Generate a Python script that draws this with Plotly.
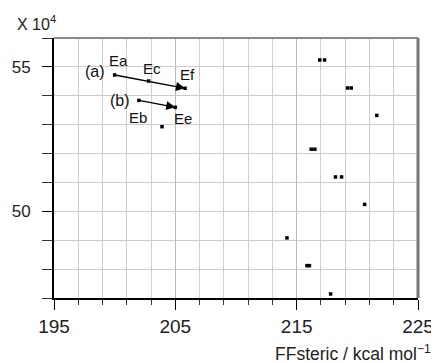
import plotly.graph_objects as go

# Path (a): Ea -> Ec -> Ef ; path (b): Eb -> Ee  (y in units of 10^4)
path_a_names = ["Ea", "Ec", "Ef"]
path_a_x = [200.0, 202.8, 205.8]
path_a_y = [54.72, 54.51, 54.26]

path_b_names = ["Eb", "Ee"]
path_b_x = [202.0, 205.0]
path_b_y = [53.84, 53.60]

# other conformers
other_x = [203.9, 216.9, 217.3, 219.2, 219.5, 221.6, 216.2, 216.5,
           218.2, 218.7, 220.6, 214.2, 215.85, 216.05, 217.8]
other_y = [52.93, 55.24, 55.24, 54.27, 54.27, 53.32, 52.15, 52.15,
           51.19, 51.19, 50.24, 49.08, 48.12, 48.12, 47.14]

x_range = [195, 225]
y_range = [47, 56]
x_tickvals = [195, 205, 215, 225]
y_tickvals = [50, 55]

FONT = "Liberation Sans, Arial, sans-serif"

fig = go.Figure()

for xs, ys in [(path_a_x, path_a_y), (path_b_x, path_b_y), (other_x, other_y)]:
    fig.add_trace(go.Scatter(x=xs, y=ys, mode="markers",
                             marker=dict(symbol="square", size=3.5, color="black"),
                             showlegend=False, hoverinfo="skip"))

# arrows
for xs, ys in [(path_a_x, path_a_y), (path_b_x, path_b_y)]:
    fig.add_annotation(x=xs[-1], y=ys[-1], ax=xs[0], ay=ys[0],
                       xref="x", yref="y", axref="x", ayref="y",
                       showarrow=True, arrowhead=2, arrowsize=1.4, arrowwidth=1.3,
                       arrowcolor="black", text="", standoff=0)

# point labels (pixel offsets)
label_shift = {"Ea": (4, 14), "Ec": (3, 13), "Ef": (2, 14), "Eb": (-1, -17), "Ee": (8, -11)}
for names, xs, ys in [(path_a_names, path_a_x, path_a_y), (path_b_names, path_b_x, path_b_y)]:
    for n, xv, yv in zip(names, xs, ys):
        dx, dy = label_shift[n]
        fig.add_annotation(x=xv, y=yv, text=n, showarrow=False, xshift=dx, yshift=dy,
                           font=dict(family=FONT, size=15, color="#111"))

fig.add_annotation(x=path_a_x[0], y=path_a_y[0], text="(a)", showarrow=False,
                   xshift=-20, yshift=3, font=dict(family=FONT, size=16, color="#111"))
fig.add_annotation(x=path_b_x[0], y=path_b_y[0], text="(b)", showarrow=False,
                   xshift=-19, yshift=0, font=dict(family=FONT, size=16, color="#111"))

# axis title and multiplier
fig.add_annotation(xref="paper", yref="paper", x=1.041, y=-0.21, xanchor="right", yanchor="middle",
                   text="FFsteric / kcal mol<sup>−1</sup>", showarrow=False,
                   font=dict(family=FONT, size=17.5, color="#222"))
fig.add_annotation(xref="paper", yref="paper", x=-0.048, y=1.058, xanchor="center", yanchor="middle",
                   text="X 10<sup>4</sup>", showarrow=False,
                   font=dict(family=FONT, size=16, color="#222"))

# grey top and right frame
fig.add_shape(type="line", xref="paper", yref="paper", x0=0, x1=1, y0=1, y1=1,
              line=dict(color="#8a8a8a", width=2))
fig.add_shape(type="line", xref="paper", yref="paper", x0=1, x1=1, y0=0, y1=1,
              line=dict(color="#777", width=3))

fig.update_xaxes(range=x_range, tickvals=x_tickvals, ticktext=[str(v) for v in x_tickvals],
                 ticks="outside", ticklen=10, tickwidth=1.2, tickcolor="black",
                 showline=True, linecolor="black", linewidth=2, automargin=False,
                 ticklabeloverflow="allow",
                 showgrid=True, gridcolor="#b8b8b8", gridwidth=1.2, zeroline=False,
                 minor=dict(dtick=2, tick0=195, ticks="outside", ticklen=5, tickcolor="#333",
                            showgrid=True, gridcolor="#d0d0d0", gridwidth=1),
                 tickfont=dict(family=FONT, size=19, color="#222"), ticklabelstandoff=0)
fig.update_yaxes(range=y_range, tickvals=y_tickvals, ticktext=[str(v) for v in y_tickvals],
                 ticks="outside", ticklen=10, tickwidth=1.2, tickcolor="black",
                 showline=True, linecolor="black", linewidth=2, automargin=False,
                 showgrid=True, gridcolor="#cccccc", gridwidth=1, zeroline=False,
                 minor=dict(dtick=1, tick0=47, ticks="outside", ticklen=10, tickcolor="#333",
                            showgrid=True, gridcolor="#cccccc", gridwidth=1),
                 tickfont=dict(family=FONT, size=17, color="#222"), ticklabelstandoff=8)

# page body has an 8px margin; figure offset so the plot area lands where the reference has it
fig.update_layout(width=431, height=355, margin=dict(l=46, r=21, t=30, b=65),
                  plot_bgcolor="white", paper_bgcolor="white")

fig.write_html("out.html")
